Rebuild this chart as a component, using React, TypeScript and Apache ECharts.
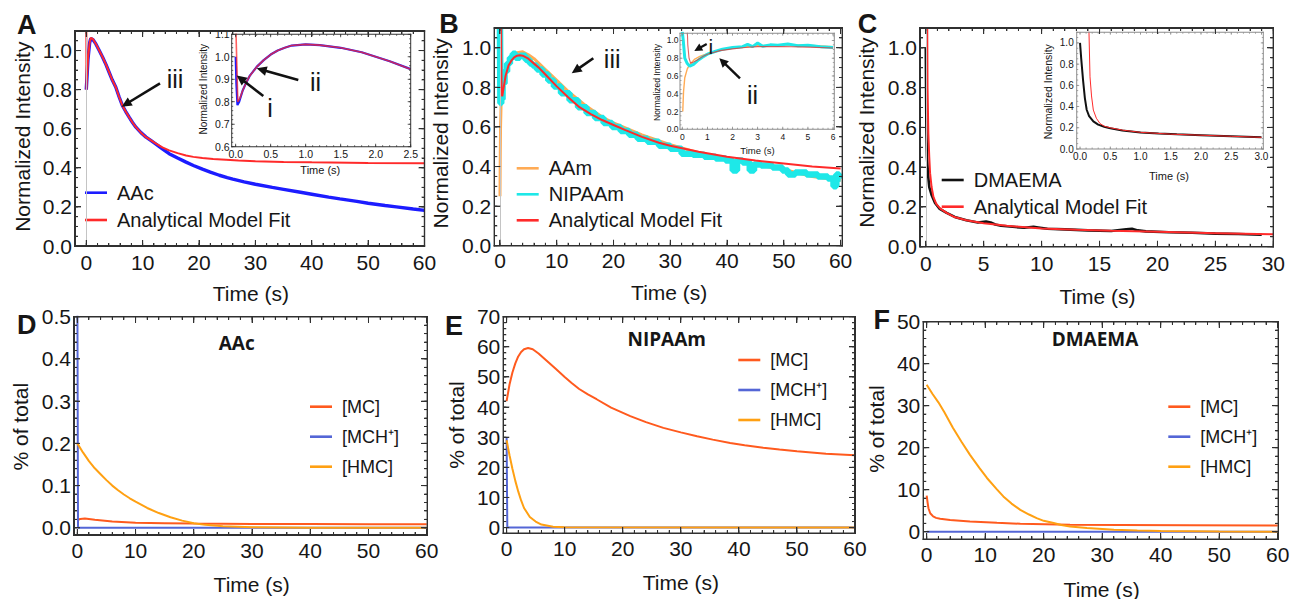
import React, { useEffect, useRef, useState } from 'react';
import * as echarts from 'echarts';

// ---------------- DATA ----------------
// Panel A (AAc)
const A_aac_t = [0, 0.1, 0.3, 0.6, 0.8, 1.2, 1.7, 2.3, 2.9, 3.5, 4.05, 4.6, 5.24, 5.8, 6.4, 7, 7.6, 8.2, 8.8, 9.7, 10.6, 11.5, 12.3, 13.5, 14.7, 16.2, 17.7, 19, 20.6, 22, 23.6, 25, 26, 28, 30, 33, 35, 38, 40, 43, 45, 48, 50, 53, 55, 58, 60];
const A_aac_v = [0.8, 0.85, 0.955, 1.04, 1.062, 1.055, 1.034, 1.0, 0.966, 0.928, 0.889, 0.85, 0.812, 0.765, 0.719, 0.688, 0.659, 0.632, 0.608, 0.58, 0.557, 0.539, 0.523, 0.497, 0.472, 0.45, 0.429, 0.412, 0.393, 0.378, 0.362, 0.35, 0.342, 0.328, 0.316, 0.3, 0.29, 0.275, 0.265, 0.25, 0.241, 0.228, 0.219, 0.207, 0.2, 0.189, 0.182];
const A_fit_t = [0, 0.03, 0.1, 0.3, 0.6, 0.8, 1.2, 1.7, 2.3, 2.9, 3.5, 4.05, 4.6, 5.24, 5.8, 6.4, 7, 7.6, 8.2, 8.8, 9.7, 10.6, 11.5, 12.3, 13.5, 14.7, 16.2, 17.7, 19, 20.6, 22.5, 24.8, 27, 30, 35, 40, 50, 60];
const A_fit_v = [1.4, 0.8, 0.85, 0.955, 1.04, 1.065, 1.058, 1.034, 1.0, 0.966, 0.928, 0.889, 0.85, 0.812, 0.765, 0.719, 0.688, 0.659, 0.632, 0.608, 0.58, 0.557, 0.54, 0.525, 0.505, 0.489, 0.475, 0.463, 0.456, 0.45, 0.445, 0.441, 0.437, 0.434, 0.43, 0.428, 0.425, 0.424];
// Panel A inset
const Ai_aac_t = [0, 0.01, 0.025, 0.05, 0.1, 0.15, 0.2, 0.3, 0.4, 0.5, 0.6, 0.7, 0.8, 1.0, 1.2, 1.5, 1.8, 2.0, 2.2, 2.5];
const Ai_aac_v = [1.0, 0.88, 0.785, 0.8, 0.85, 0.885, 0.915, 0.955, 0.985, 1.01, 1.028, 1.04, 1.05, 1.055, 1.052, 1.04, 1.02, 1.0, 0.98, 0.945];
const Ai_fit_t = [0, 0.005, 0.03, 0.06, 0.1, 0.15, 0.2, 0.3, 0.4, 0.5, 0.6, 0.7, 0.8, 1.0, 1.2, 1.5, 1.8, 2.0, 2.2, 2.5];
const Ai_fit_v = [1.4, 1.1, 0.8, 0.815, 0.85, 0.885, 0.915, 0.955, 0.985, 1.01, 1.028, 1.04, 1.05, 1.055, 1.052, 1.04, 1.02, 1.0, 0.98, 0.945];

// Panel B (AAm, NIPAAm)
const B_aam_t = [0, 0.05, 0.1, 0.2, 0.3, 0.5, 1, 1.5, 2, 3, 4, 5, 6, 8, 10, 12, 15, 18, 20, 25, 30, 35, 40, 45, 50, 55, 60];
const B_aam_v = [0.25, 0.45, 0.6, 0.72, 0.78, 0.83, 0.88, 0.92, 0.95, 0.975, 0.98, 0.965, 0.945, 0.89, 0.835, 0.78, 0.71, 0.65, 0.62, 0.56, 0.51, 0.47, 0.435, 0.41, 0.385, 0.35, 0.33];
const B_nip_t = [0, 0.15, 0.3, 0.6, 1, 1.5, 2, 2.5, 3, 4, 5, 5.5, 6, 7, 8, 9, 10, 11.5, 13, 14.5, 16, 17.5, 19, 20.5, 22, 23.5, 25, 27, 29, 31, 33, 35, 37, 39, 40.5, 41.5, 42, 43.5, 44.5, 45, 47, 49, 50.5, 51, 53, 55, 57, 58.5, 59, 59.5, 60];
const B_nip_v = [1.1, 0.72, 0.74, 0.82, 0.88, 0.92, 0.95, 0.97, 0.95, 0.96, 0.94, 0.92, 0.91, 0.89, 0.865, 0.835, 0.805, 0.77, 0.735, 0.70, 0.67, 0.645, 0.62, 0.60, 0.58, 0.56, 0.54, 0.525, 0.505, 0.49, 0.465, 0.46, 0.45, 0.44, 0.43, 0.38, 0.43, 0.42, 0.38, 0.41, 0.405, 0.395, 0.38, 0.36, 0.37, 0.36, 0.35, 0.34, 0.30, 0.36, 0.34];
const B_fit_t = [0.15, 0.22, 0.3, 0.4, 0.6, 1, 1.5, 2, 2.5, 3, 3.5, 4, 5, 6, 7, 8, 10, 12, 14, 16, 18, 20, 22, 25, 28, 30, 35, 40, 45, 50, 55, 60];
const B_fit_v = [1.5, 0.95, 0.77, 0.755, 0.79, 0.86, 0.91, 0.935, 0.952, 0.96, 0.962, 0.96, 0.945, 0.92, 0.895, 0.865, 0.805, 0.75, 0.70, 0.665, 0.635, 0.61, 0.585, 0.55, 0.52, 0.505, 0.475, 0.45, 0.43, 0.415, 0.40, 0.39];
// Panel B inset
const Bi_aam_t = [0.02, 0.05, 0.1, 0.2, 0.3, 0.5, 0.7, 1, 1.5, 2, 3, 4, 5, 6];
const Bi_aam_v = [0.2, 0.42, 0.58, 0.68, 0.73, 0.79, 0.82, 0.85, 0.89, 0.915, 0.94, 0.95, 0.945, 0.93];
const Bi_nip_t = [0, 0.04, 0.1, 0.2, 0.3, 0.45, 0.6, 0.8, 1, 1.3, 1.6, 2, 2.4, 2.6, 2.8, 3, 3.2, 3.5, 3.8, 4.2, 4.6, 5, 5.5, 6];
const Bi_nip_v = [1.1, 1.0, 0.8, 0.74, 0.71, 0.73, 0.77, 0.81, 0.845, 0.875, 0.9, 0.92, 0.93, 0.955, 0.93, 0.97, 0.935, 0.95, 0.945, 0.96, 0.94, 0.945, 0.93, 0.92];
const Bi_fit_t = [0.18, 0.22, 0.27, 0.33, 0.4, 0.6, 0.8, 1, 1.5, 2, 2.5, 3, 4, 5, 6];
const Bi_fit_v = [1.3, 0.95, 0.8, 0.745, 0.75, 0.78, 0.815, 0.845, 0.885, 0.905, 0.92, 0.93, 0.932, 0.925, 0.915];

// Panel C (DMAEMA)
const C_dma_t = [0, 0.05, 0.1, 0.2, 0.3, 0.5, 0.8, 1.2, 1.8, 2.5, 3.5, 4.5, 5.2, 5.6, 6, 6.5, 7.5, 8.5, 9.3, 9.7, 10.5, 12, 14, 16, 17.3, 17.8, 18.3, 19, 21, 23, 25, 27, 29];
const C_dma_v = [1.0, 0.6, 0.45, 0.36, 0.3, 0.26, 0.22, 0.19, 0.17, 0.15, 0.133, 0.122, 0.127, 0.122, 0.112, 0.105, 0.1, 0.095, 0.1, 0.097, 0.09, 0.087, 0.082, 0.079, 0.088, 0.09, 0.082, 0.077, 0.073, 0.07, 0.066, 0.064, 0.06];
const C_fit_t = [0, 0.1, 0.15, 0.22, 0.3, 0.37, 0.5, 0.66, 0.9, 1.23, 1.8, 2.4, 3.5, 5, 7, 10, 13, 16, 20, 25, 30];
const C_fit_v = [2, 1.4, 0.8, 0.57, 0.45, 0.37, 0.3, 0.25, 0.215, 0.193, 0.17, 0.151, 0.133, 0.118, 0.105, 0.092, 0.085, 0.08, 0.075, 0.068, 0.062];
// Panel C inset
const Ci_dma_t = [0, 0.02, 0.05, 0.08, 0.11, 0.15, 0.22, 0.3, 0.4, 0.5, 0.7, 1.0, 1.3, 1.6, 2.0, 2.5, 3.0];
const Ci_dma_v = [1.0, 0.85, 0.65, 0.48, 0.37, 0.31, 0.26, 0.23, 0.21, 0.195, 0.175, 0.155, 0.145, 0.138, 0.13, 0.12, 0.11];
const Ci_fit_t = [0.14, 0.165, 0.19, 0.22, 0.27, 0.33, 0.4, 0.5, 0.7, 1.0, 1.5, 2.0, 2.5, 3.0];
const Ci_fit_v = [1.3, 0.68, 0.5, 0.367, 0.29, 0.24, 0.215, 0.2, 0.178, 0.157, 0.14, 0.13, 0.12, 0.11];

// Panel D (AAc species)
const D_mc_t = [0, 0.5, 1.3, 3, 6, 10, 15, 20, 30, 40, 50, 60];
const D_mc_v = [0.018, 0.021, 0.022, 0.019, 0.015, 0.012, 0.011, 0.01, 0.009, 0.0088, 0.0085, 0.0085];
const D_mch_t = [0, 0.12, 60];
const D_mch_v = [0.6, 0, 0];
const D_hmc_t = [0, 1, 2, 3, 4, 5, 6, 7, 8, 9, 10, 12, 14, 16, 18, 20, 22, 25, 30, 40, 60];
const D_hmc_v = [0.2, 0.178, 0.158, 0.141, 0.127, 0.113, 0.1, 0.089, 0.079, 0.07, 0.062, 0.047, 0.035, 0.025, 0.017, 0.011, 0.007, 0.004, 0.0015, 0.0003, 0];

// Panel E (NIPAAm species)
const E_mc_t = [0, 0.5, 1, 1.5, 2, 2.5, 3, 3.7, 4.5, 5.5, 7, 8.5, 10, 11.2, 12.5, 14, 15.5, 18, 21.3, 24, 27, 30, 32.8, 35.5, 38.5, 41, 44.2, 47, 50, 55, 60];
const E_mc_v = [42, 47.5, 51.5, 54.5, 56.8, 58.3, 59.2, 59.6, 59.2, 57.8, 55.2, 52.6, 50, 48, 46, 44.2, 42.6, 39.8, 37, 35, 33.1, 31.6, 30.3, 29.2, 28.1, 27.3, 26.5, 25.9, 25.3, 24.5, 24];
const E_mch_t = [0, 0.12, 60];
const E_mch_v = [30, 0, 0];
const E_hmc_t = [0, 0.5, 1, 1.5, 2, 2.5, 3, 4, 5, 6, 8, 10, 60];
const E_hmc_v = [29, 24, 19.5, 15.5, 12, 9, 6.5, 3.5, 2, 1, 0.3, 0.1, 0];

// Panel F (DMAEMA species)
const F_mc_t = [0, 0.15, 0.3, 0.6, 1.1, 1.6, 2.3, 4, 7.4, 12, 16, 24.5, 33, 45, 60];
const F_mc_v = [8.6, 7.0, 5.6, 4.4, 3.65, 3.3, 3.1, 2.8, 2.46, 2.15, 1.9, 1.67, 1.6, 1.55, 1.5];
const F_mch_t = [0, 60];
const F_mch_v = [0, 0];
const F_hmc_t = [0, 1, 2, 3, 4.5, 6, 7.4, 9, 10.3, 12, 13.1, 14.5, 16, 17.5, 18.8, 20, 21.7, 23, 24.5, 27.4, 32, 36, 40, 50, 60];
const F_hmc_v = [35, 32.8, 30.8, 28.5, 24.7, 21.3, 18.3, 15.2, 12.8, 10.1, 8.4, 6.7, 5.2, 4.1, 3.25, 2.6, 2.06, 1.6, 1.27, 0.87, 0.5, 0.3, 0.2, 0.07, 0.02];

// ---------------- STYLE ----------------
const FONT = "'Liberation Sans', Arial, Helvetica, sans-serif";
const TITLE_FONT = "'Open Sans', 'Liberation Sans', sans-serif";
const INK = '#161616';
const BLUE = '#1c1cff';
const RED = '#ff2a2a';
const ORANGE = '#ffab55';
const CYAN = '#1ee8e8';
const BLACK = '#111111';
const MC_C = '#ff5a1e';
const MCH_C = '#5466d6';
const HMC_C = '#ffa012';

function ticks(start: number, end: number, step: number): number[] {
  const out: number[] = [];
  for (let i = 0; start + i * step <= end + 1e-9; i++) out.push(+(start + i * step).toFixed(6));
  return out;
}

type Panel = {
  left: number; top: number; width: number; height: number;
  xMin: number; xMax: number; yMin: number; yMax: number;
  xMaj: number[]; xMin_: number[]; yMaj: number[]; yMin_: number[];
  xDec: number; yDec: number; fs: number; xm: number; ym: number;
  ml: number; nl: number; inset: boolean; frame: string;
};

const panels: Panel[] = [
  // 0 A
  { left: 75, top: 31, width: 349.5, height: 215, xMin: -2, xMax: 60, yMin: 0, yMax: 1.1,
    xMaj: ticks(0, 60, 10), xMin_: ticks(0, 60, 2), yMaj: ticks(0, 1, 0.2), yMin_: ticks(0, 1.1, 0.05),
    xDec: 0, yDec: 1, fs: 21, xm: 6, ym: 3, ml: 6, nl: 3, inset: false, frame: '#303030' },
  // 1 A inset
  { left: 231.7, top: 34.3, width: 179, height: 112.4, xMin: -0.057, xMax: 2.5, yMin: 0.6, yMax: 1.1,
    xMaj: ticks(0, 2.5, 0.5), xMin_: ticks(0, 2.5, 0.1), yMaj: ticks(0.6, 1.1, 0.1), yMin_: ticks(0.6, 1.1, 0.02),
    xDec: 1, yDec: 1, fs: 10.5, xm: 1.5, ym: 2, ml: 3, nl: 1.5, inset: true, frame: '#333333' },
  // 2 B
  { left: 494.3, top: 28, width: 348, height: 217.7, xMin: -1, xMax: 60.3, yMin: 0, yMax: 1.1,
    xMaj: ticks(0, 60, 10), xMin_: ticks(0, 60, 2), yMaj: ticks(0, 1, 0.2), yMin_: ticks(0, 1.1, 0.05),
    xDec: 0, yDec: 1, fs: 21, xm: 4, ym: 3, ml: 6, nl: 3, inset: false, frame: '#303030' },
  // 3 B inset
  { left: 680, top: 33.3, width: 154.3, height: 96, xMin: -0.09, xMax: 6.05, yMin: 0, yMax: 1.08,
    xMaj: ticks(0, 6, 1), xMin_: ticks(0, 6, 0.2), yMaj: ticks(0, 1, 0.2), yMin_: ticks(0, 1.05, 0.05),
    xDec: 0, yDec: 1, fs: 8.5, xm: 3, ym: 1.5, ml: 2.5, nl: 1.5, inset: true, frame: '#8c8c8c' },
  // 4 C
  { left: 920, top: 28, width: 353.3, height: 218.7, xMin: -0.5, xMax: 30, yMin: 0, yMax: 1.1,
    xMaj: ticks(0, 30, 5), xMin_: ticks(0, 30, 1), yMaj: ticks(0, 1, 0.2), yMin_: ticks(0, 1.1, 0.05),
    xDec: 0, yDec: 1, fs: 21, xm: 6, ym: 3, ml: 6, nl: 3, inset: false, frame: '#303030' },
  // 5 C inset
  { left: 1076.7, top: 32.3, width: 186.6, height: 116.7, xMin: -0.055, xMax: 3.03, yMin: 0, yMax: 1.1,
    xMaj: ticks(0, 3, 0.5), xMin_: ticks(0, 3, 0.1), yMaj: ticks(0, 1, 0.2), yMin_: ticks(0, 1.1, 0.05),
    xDec: 1, yDec: 1, fs: 10, xm: 2, ym: 3, ml: 2.5, nl: 1.5, inset: true, frame: '#8c8c8c' },
  // 6 D
  { left: 74, top: 316.7, width: 353.3, height: 218.3, xMin: -0.57, xMax: 60.1, yMin: -0.017, yMax: 0.5,
    xMaj: ticks(0, 60, 10), xMin_: ticks(0, 60, 2), yMaj: ticks(0, 0.5, 0.1), yMin_: ticks(0, 0.5, 0.02),
    xDec: 0, yDec: 1, fs: 21, xm: 4.5, ym: 3, ml: 6, nl: 3, inset: false, frame: '#303030' },
  // 7 E
  { left: 503.3, top: 316.7, width: 351.7, height: 216.6, xMin: -0.57, xMax: 60, yMin: -1.9, yMax: 70,
    xMaj: ticks(0, 60, 10), xMin_: ticks(0, 60, 2), yMaj: ticks(0, 70, 10), yMin_: ticks(0, 70, 2),
    xDec: 0, yDec: 0, fs: 21, xm: 4.5, ym: 3, ml: 6, nl: 3, inset: false, frame: '#303030' },
  // 8 F
  { left: 923.3, top: 321.7, width: 355, height: 217.6, xMin: -0.58, xMax: 60.1, yMin: -1.8, yMax: 50,
    xMaj: ticks(0, 60, 10), xMin_: ticks(0, 60, 2), yMaj: ticks(0, 50, 10), yMin_: ticks(0, 50, 2),
    xDec: 0, yDec: 0, fs: 21, xm: 5, ym: 3, ml: 6, nl: 3, inset: false, frame: '#303030' },
];

function buildAxes(p: Panel, g: number) {
  const lbl = { color: INK, fontSize: p.fs, fontFamily: FONT };
  const z = p.inset ? 8 : 4;
  const base = (min: number, max: number) => ({
    type: 'value', gridIndex: g, min, max, z, silent: true,
    splitLine: { show: false }, minorTick: { show: false }, axisPointer: { show: false },
    axisLine: { show: false, onZero: false }, axisTick: { show: false },
  });
  const x = { ...base(p.xMin, p.xMax), position: 'bottom',
    axisLabel: { show: true, customValues: p.xMaj, margin: p.xm, formatter: (v: number) => v.toFixed(p.xDec), ...lbl } };
  const y = { ...base(p.yMin, p.yMax), position: 'left',
    axisLabel: { show: true, customValues: p.yMaj, margin: p.ym, formatter: (v: number) => v.toFixed(p.yDec), ...lbl } };
  return { x, y };
}

function ser(name: string, ts: number[], vs: number[], color: string, width: number, g: number, extra: any = {}) {
  return {
    type: 'line', name, xAxisIndex: g, yAxisIndex: g,
    data: ts.map((t, i) => [t, vs[i]]),
    symbol: 'none', showSymbol: false, clip: true, silent: true,
    z: panels[g].inset ? 7 : 3,
    lineStyle: { color, width }, itemStyle: { color },
    ...extra,
  };
}

const zeroLine = {
  silent: true, symbol: ['none', 'none'], label: { show: false },
  lineStyle: { color: '#c4c4c4', width: 1, type: 'solid' },
  data: [{ xAxis: 0 }],
};

function txt(text: string, x: number, y: number, fontSize: number, opt: any = {}) {
  return {
    type: 'text', x, y, z: 40, silent: true, rotation: opt.rotation || 0,
    style: {
      text, fontSize, fontFamily: opt.font || FONT, fontWeight: opt.bold ? 'bold' : 'normal',
      fill: opt.color || INK, align: 'center', verticalAlign: 'middle',
    },
  };
}

function arrow(x1: number, y1: number, x2: number, y2: number, w = 2.6, head = 10, hw = 4.8) {
  const dx = x2 - x1, dy = y2 - y1, L = Math.hypot(dx, dy);
  const ux = dx / L, uy = dy / L;
  const bx = x2 - ux * head, by = y2 - uy * head;
  const px = -uy, py = ux;
  return [
    { type: 'line', z: 40, silent: true, shape: { x1, y1, x2: bx + ux * 1, y2: by + uy * 1 }, style: { stroke: '#111', lineWidth: w } },
    { type: 'polygon', z: 40, silent: true, shape: { points: [[x2, y2], [bx + px * hw, by + py * hw], [bx - px * hw, by - py * hw]] }, style: { fill: '#111' } },
  ];
}

function legend(names: string[], left: number, top: number, fontSize: number, gap: number) {
  return {
    show: true, orient: 'vertical', left, top, padding: 0, itemGap: gap,
    icon: 'rect', itemWidth: 22, itemHeight: 2.6, selectedMode: false,
    data: names,
    formatter: '{t|{name}}',
    textStyle: {
      fontSize, lineHeight: fontSize, color: INK, fontFamily: FONT,
      rich: { t: { fontSize, lineHeight: fontSize, color: INK, fontFamily: FONT, padding: [0, 0, 0, 5] } },
    },
  };
}

function baseElements(): any[] {
  const R = Math.PI / 2;
  return [
    txt('A', 26.7, 25, 27, { bold: true }),
    txt('B', 449, 24, 27, { bold: true }),
    txt('C', 867.5, 24, 27, { bold: true }),
    txt('D', 26.7, 325, 27, { bold: true }),
    txt('E', 454, 325.6, 27, { bold: true }),
    txt('F', 881.7, 320, 27, { bold: true }),
    txt('Normalized Intensity', 22.5, 136.7, 21, { rotation: R }),
    txt('Time (s)', 250.8, 293.5, 21),
    txt('Normalized Intensity', 440.8, 133.3, 21, { rotation: R }),
    txt('Time (s)', 669.2, 292.5, 21),
    txt('Normalized Intensity', 866.5, 132.5, 21, { rotation: R }),
    txt('Time (s)', 1097.5, 296, 21),
    txt('% of total', 20, 426.7, 21, { rotation: R }),
    txt('Time (s)', 251.7, 584, 21),
    txt('% of total', 456.7, 425, 21, { rotation: R }),
    txt('Time (s)', 680.8, 582.5, 21),
    txt('% of total', 876.7, 429, 21, { rotation: R }),
    txt('Time (s)', 1101.7, 589, 21),
    txt('Normalized Intensity', 203.3, 89.2, 10, { rotation: R }),
    txt('Time (s)', 320.3, 170, 11),
    txt('Normalized Intensity', 657, 82.5, 8.5, { rotation: R }),
    txt('Time (s)', 757.5, 150.8, 9.5),
    txt('Normalized Intensity', 1047.5, 91.7, 10.5, { rotation: R }),
    txt('Time (s)', 1169, 176, 11),
    txt('AAc', 236.7, 343.3, 19, { bold: true, font: TITLE_FONT }),
    txt('NIPAAm', 666.7, 339, 19, { bold: true, font: TITLE_FONT }),
    txt('DMAEMA', 1095, 339, 19, { bold: true, font: TITLE_FONT }),
    txt('iii', 175, 78.7, 25),
    txt('ii', 315.5, 82.3, 25),
    txt('i', 270, 107.5, 25),
    txt('iii', 612.2, 59.2, 25),
    txt('i', 710.8, 46.7, 21),
    txt('ii', 752.5, 95.3, 25),
    ...arrow(160, 83.3, 121.7, 106.7),
    ...arrow(298.3, 80, 256.7, 68.3),
    ...arrow(263.3, 96, 236.7, 75.5),
    ...arrow(593.3, 58.3, 571.7, 73.3),
    ...arrow(706.7, 44, 694.3, 51, 2.2, 8, 4),
    ...arrow(740, 78.3, 719.3, 58.3, 2.4, 9, 4.5),
  ];
}

type Strip = { x: number; y: number; w: number; h: number; c: string; inset: boolean };

// Frame edges and inward ticks as thin strips; tick positions come from the axes' own scales.
function frameStrips(chart: any): Strip[] {
  const out: Strip[] = [];
  panels.forEach((p, g) => {
    const px = (v: number) => Number(chart.convertToPixel({ xAxisIndex: g }, v));
    const py = (v: number) => Number(chart.convertToPixel({ yAxisIndex: g }, v));
    const xl = p.left, xr = p.left + p.width, yt = p.top, yb = p.top + p.height;
    const fw = p.inset ? 1 : 1.4;
    const tw = p.inset ? 0.8 : 1;
    const s = (x: number, y: number, w: number, h: number) => out.push({ x, y, w, h, c: p.frame, inset: p.inset });
    s(xl - fw / 2, yt - fw / 2, xr - xl + fw, fw);
    s(xl - fw / 2, yb - fw / 2, xr - xl + fw, fw);
    s(xl - fw / 2, yt - fw / 2, fw, yb - yt + fw);
    s(xr - fw / 2, yt - fw / 2, fw, yb - yt + fw);
    const addX = (vals: number[], len: number) => vals.forEach((v) => {
      const X = px(v);
      if (!isFinite(X)) return;
      s(X - tw / 2, yb - len, tw, len);
      s(X - tw / 2, yt, tw, len);
    });
    const addY = (vals: number[], len: number) => vals.forEach((v) => {
      const Y = py(v);
      if (!isFinite(Y)) return;
      s(xl, Y - tw / 2, len, tw);
      s(xr - len, Y - tw / 2, len, tw);
    });
    addX(p.xMin_, p.nl);
    addX(p.xMaj, p.ml);
    addY(p.yMin_, p.nl);
    addY(p.yMaj, p.ml);
  });
  return out;
}

function buildOption() {
  const grid: any[] = [];
  const xAxis: any[] = [];
  const yAxis: any[] = [];
  panels.forEach((p, g) => {
    grid.push({
      left: p.left, top: p.top, width: p.width, height: p.height,
      show: p.inset, backgroundColor: '#ffffff', borderWidth: 0,
      z: p.inset ? 5 : 0, outerBoundsMode: 'none', containLabel: false,
    });
    const { x, y } = buildAxes(p, g);
    xAxis.push(x);
    yAxis.push(y);
  });

  const series: any[] = [
    ser('AAc', A_aac_t, A_aac_v, BLUE, 3.4, 0, { markLine: zeroLine }),
    ser('Analytical Model Fit', A_fit_t, A_fit_v, RED, 2, 0),
    ser('AAc inset', Ai_aac_t, Ai_aac_v, BLUE, 2.2, 1),
    ser('Fit inset A', Ai_fit_t, Ai_fit_v, RED, 1.6, 1, { lineStyle: { color: RED, width: 1.6, opacity: 0.75 } }),
    ser('AAm', B_aam_t, B_aam_v, ORANGE, 3, 2, { markLine: zeroLine }),
    ser('NIPAAm', B_nip_t, B_nip_v, CYAN, 6.5, 2, { step: 'middle' }),
    ser('Analytical Model Fit', B_fit_t, B_fit_v, RED, 2, 2),
    ser('AAm inset', Bi_aam_t, Bi_aam_v, ORANGE, 1.4, 3),
    ser('NIPAAm inset', Bi_nip_t, Bi_nip_v, CYAN, 3, 3),
    ser('Fit inset B', Bi_fit_t, Bi_fit_v, '#d93a3a', 1.1, 3, { lineStyle: { color: '#d93a3a', width: 1.1, opacity: 0.8 } }),
    ser('DMAEMA', C_dma_t, C_dma_v, BLACK, 2.6, 4, { markLine: zeroLine }),
    ser('Analytical Model Fit', C_fit_t, C_fit_v, RED, 2, 4),
    ser('DMAEMA inset', Ci_dma_t, Ci_dma_v, BLACK, 2, 5),
    ser('Fit inset C', Ci_fit_t, Ci_fit_v, RED, 1, 5),
    ser('[MC]', D_mc_t, D_mc_v, MC_C, 2, 6),
    ser('[MCH⁺]', D_mch_t, D_mch_v, MCH_C, 2, 6),
    ser('[HMC]', D_hmc_t, D_hmc_v, HMC_C, 2, 6),
    ser('[MC]', E_mc_t, E_mc_v, MC_C, 2, 7),
    ser('[MCH⁺]', E_mch_t, E_mch_v, MCH_C, 2, 7),
    ser('[HMC]', E_hmc_t, E_hmc_v, HMC_C, 2, 7),
    ser('[MC]', F_mc_t, F_mc_v, MC_C, 2, 8),
    ser('[MCH⁺]', F_mch_t, F_mch_v, MCH_C, 2, 8),
    ser('[HMC]', F_hmc_t, F_hmc_v, HMC_C, 2, 8),
  ];

  const species = ['[MC]', '[MCH⁺]', '[HMC]'];
  const legends = [
    legend(['AAc', 'Analytical Model Fit'], 85, 182.7, 20, 7.3),
    legend(['AAm', 'NIPAAm', 'Analytical Model Fit'], 516.7, 158.3, 20, 6),
    legend(['DMAEMA', 'Analytical Model Fit'], 941.7, 170, 20, 6.7),
    legend(species, 310, 397.7, 18, 12),
    legend(species, 738.3, 351, 18, 12),
    legend(species, 1168.3, 397.7, 18, 12),
  ];

  return {
    animation: false,
    backgroundColor: '#ffffff',
    textStyle: { fontFamily: FONT },
    tooltip: { show: false },
    grid, xAxis, yAxis, series,
    legend: legends,
  };
}

export default function App() {
  const ref = useRef<HTMLDivElement>(null);
  const [strips, setStrips] = useState<Strip[]>([]);
  useEffect(() => {
    if (!ref.current) return;
    const chart = echarts.init(ref.current, null, { renderer: 'svg' });
    chart.setOption(buildOption() as any);
    const st = frameStrips(chart);
    const gEls = st.map((s) => ({
      type: 'rect', z: s.inset ? 46 : 45, silent: true,
      shape: { x: s.x, y: s.y, width: s.w, height: s.h }, style: { fill: s.c },
    }));
    chart.setOption({ graphic: { elements: [...baseElements(), ...gEls] } } as any);
    setStrips(st);
    return () => chart.dispose();
  }, []);
  return (
    <div style={{ position: 'absolute', left: 0, top: 0, width: 1291, height: 599, background: '#fff' }}>
      <div ref={ref} style={{ position: 'absolute', left: 0, top: 0, width: 1291, height: 599 }} />
      {strips.filter((s) => !s.inset).map((s, i) => (
        <div
          key={i}
          style={{
            position: 'absolute', left: s.x, top: s.y, width: s.w, height: s.h,
            background: s.c, pointerEvents: 'none',
          }}
        />
      ))}
    </div>
  );
}
